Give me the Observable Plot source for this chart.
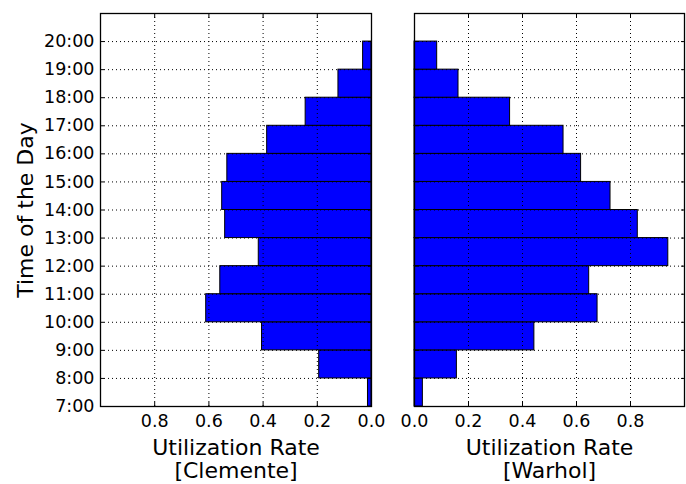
<!DOCTYPE html>
<html><head><meta charset="utf-8">
<script src="https://cdn.jsdelivr.net/npm/d3@7"></script>
<script src="https://cdn.jsdelivr.net/npm/@observablehq/plot@0.6"></script>
<style>
body{margin:0;background:#fff;}
#wrap{position:relative;width:686px;height:484px;overflow:hidden;background:#fff;}
#left,#right{position:absolute;top:0;}
#left{left:0px;}
#right{left:380px;}
</style></head><body>
<div id="wrap"><div id="left"></div><div id="right"></div></div>
<script>
const hours = [7, 8, 9, 10, 11, 12, 13, 14, 15, 16, 17, 18, 19];
const clemente = [0.013, 0.193, 0.404, 0.610, 0.558, 0.416, 0.540, 0.551, 0.532, 0.385, 0.243, 0.122, 0.031];
const warhol = [0.031, 0.157, 0.444, 0.678, 0.647, 0.940, 0.827, 0.726, 0.617, 0.552, 0.354, 0.163, 0.084];
const hourTicks = [7, 8, 9, 10, 11, 12, 13, 14, 15, 16, 17, 18, 19, 20];
const rateTicks = [0, 0.2, 0.4, 0.6, 0.8];
const rateGrid = [0.2, 0.4, 0.6, 0.8];
const yLabel = "Time of the Day";
const xLabels = ["Utilization Rate\n[Clemente]", "Utilization Rate\n[Warhol]"];

const FONT = "DejaVu Sans";

function panel({values, reverse, width, marginLeft, marginRight, xLabel, showY}) {
  const data = hours.map((h, i) => ({h, h2: h + 1, v: values[i]}));
  const blank = () => "";
  const marks = [
    Plot.rectX(data, {x1: 0, x2: "v", y1: "h", y2: "h2", fill: "#0000ff", stroke: "#000", strokeWidth: 1}),
    Plot.gridX(rateGrid, {stroke: "#000", strokeOpacity: 1, strokeWidth: 1, strokeDasharray: "1,3"}),
    Plot.gridY(hourTicks, {stroke: "#000", strokeOpacity: 1, strokeWidth: 1, strokeDasharray: "1,3"}),
    Plot.frame({stroke: "#000", strokeWidth: 1.3}),
    Plot.axisX(rateTicks, {anchor: "bottom", tickSize: 0, tickPadding: 8, tickFormat: d3.format(".1f"), label: null, fontSize: 17.5}),
    Plot.axisX(rateTicks, {anchor: "bottom", tickSize: -4, tickFormat: blank, label: null}),
    Plot.axisX(rateTicks, {anchor: "top", tickSize: -4, tickFormat: blank, label: null}),
    Plot.axisY(hourTicks, {anchor: "left", tickSize: -4, tickFormat: blank, label: null}),
    Plot.axisY(hourTicks, {anchor: "right", tickSize: -4, tickFormat: blank, label: null}),
    Plot.text([xLabel], {frameAnchor: "bottom", textAnchor: "middle", dy: 32, lineAnchor: "top", fontSize: 22, lineHeight: 1.05})
  ];
  if (showY) {
    marks.push(Plot.axisY(hourTicks, {anchor: "left", tickSize: 0, tickPadding: 6, tickFormat: h => `${h}:00`, label: null, fontSize: 17.5}));
    marks.push(Plot.text([yLabel], {frameAnchor: "left", textAnchor: "middle", rotate: -90, dx: -68, lineAnchor: "bottom", fontSize: 22}));
  }
  return Plot.plot({
    width, height: 484,
    marginTop: 13, marginBottom: 78, marginLeft, marginRight,
    style: {fontFamily: FONT, fontSize: "17.5px", color: "#000", background: "transparent", overflow: "visible"},
    x: {domain: [0, 1], reverse},
    y: {domain: [7, 21]},
    marks
  });
}

document.getElementById("left").appendChild(panel({values: clemente, reverse: true, width: 380, marginLeft: 100, marginRight: 9, xLabel: xLabels[0], showY: true}));
document.getElementById("right").appendChild(panel({values: warhol, reverse: false, width: 306, marginLeft: 34, marginRight: 2, xLabel: xLabels[1], showY: false}));
</script>
</body></html>
